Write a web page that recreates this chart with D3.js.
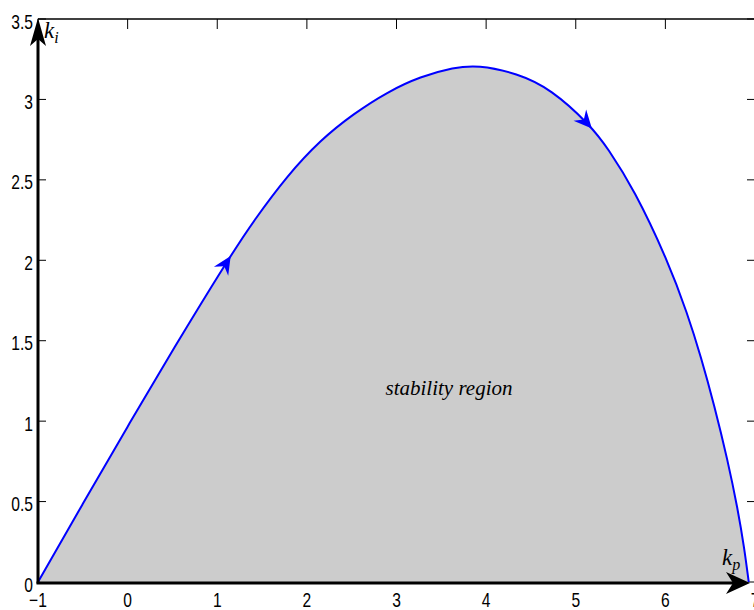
<!DOCTYPE html>
<html>
<head>
<meta charset="utf-8">
<script src="https://cdn.jsdelivr.net/npm/d3@7"></script>
<style>
  html, body { margin: 0; padding: 0; background: #fff; }
  svg { display: block; }
</style>
</head>
<body>
<svg id="chart" width="754" height="610"></svg>
<script>
// Stability boundary in the (kp, ki) plane
const kpValues = [-1, -0.5, 0, 0.5, 1.143, 1.406, 1.779, 2.151, 2.523, 2.896, 3.268, 3.640, 3.902, 4.349, 4.721, 5.168, 5.354, 5.651, 6.025, 6.248, 6.397, 6.545, 6.695, 6.807, 6.881, 6.93];
const kiValues = [0, 0.487, 0.967, 1.44, 2.025, 2.245, 2.525, 2.748, 2.912, 3.046, 3.143, 3.198, 3.215, 3.162, 3.066, 2.837, 2.700, 2.440, 2.000, 1.665, 1.400, 1.100, 0.757, 0.455, 0.210, 0];

// Direction markers placed along the boundary (kp positions)
const arrowKp = [1.15, 5.18];

// Axis ticks
const xTicks = [-1, 0, 1, 2, 3, 4, 5, 6, 7];
const xTickLabels = ["\u22121", "0", "1", "2", "3", "4", "5", "6", "7"];
const yTicks = [0, 0.5, 1, 1.5, 2, 2.5, 3, 3.5];
const yTickLabels = ["0", "0.5", "1", "1.5", "2", "2.5", "3", "3.5"];

const regionLabel = "stability region";

const svg = d3.select("#chart");
const x = d3.scaleLinear().domain([-1, 7]).range([38, 755]);
const y = d3.scaleLinear().domain([0, 3.5]).range([582, 19]);

const pts = kpValues.map((k, i) => [k, kiValues[i]]);
const smooth = d3.curveBasis;

// Tick marks (drawn first so the filled region covers them)
const ticks = svg.append("g").attr("stroke", "#000").attr("stroke-width", 1);
xTicks.forEach(t => {
  ticks.append("line").attr("x1", x(t)).attr("x2", x(t)).attr("y1", y(3.5)).attr("y2", y(3.5) + 10);
  ticks.append("line").attr("x1", x(t)).attr("x2", x(t)).attr("y1", y(0)).attr("y2", y(0) - 10);
});
yTicks.forEach(t => {
  ticks.append("line").attr("x1", x(-1)).attr("x2", x(-1) + 8).attr("y1", y(t)).attr("y2", y(t));
  ticks.append("line").attr("x1", x(7) - 8).attr("x2", x(7)).attr("y1", y(t)).attr("y2", y(t));
});

// Top border of the axes box
svg.append("line")
  .attr("x1", x(-1)).attr("x2", x(7)).attr("y1", y(3.5)).attr("y2", y(3.5))
  .attr("stroke", "#000").attr("stroke-width", 1.5);

// Filled stability region
const area = d3.area()
  .x(d => x(d[0]))
  .y0(y(0))
  .y1(d => y(d[1]))
  .curve(smooth);
svg.append("path").attr("d", area(pts)).attr("fill", "#cccccc");

// Boundary curve
const line = d3.line().x(d => x(d[0])).y(d => y(d[1])).curve(smooth);
const boundary = svg.append("path")
  .attr("d", line(pts))
  .attr("fill", "none")
  .attr("stroke", "#0000ff")
  .attr("stroke-width", 2);

// Arrowheads along the boundary
const node = boundary.node();
const total = node.getTotalLength();
function lengthAtX(px) {
  let lo = 0, hi = total;
  for (let i = 0; i < 40; i++) {
    const mid = (lo + hi) / 2;
    if (node.getPointAtLength(mid).x < px) lo = mid; else hi = mid;
  }
  return (lo + hi) / 2;
}
const headPath = "M0,0 L-18,-8.5 L-12,0 L-18,8.5 Z";
arrowKp.forEach(k => {
  const L = lengthAtX(x(k));
  const p = node.getPointAtLength(L);
  const a = node.getPointAtLength(Math.max(0, L - 3));
  const b = node.getPointAtLength(Math.min(total, L + 3));
  const ang = Math.atan2(b.y - a.y, b.x - a.x) * 180 / Math.PI;
  svg.append("path")
    .attr("d", headPath)
    .attr("transform", `translate(${p.x},${p.y}) rotate(${ang})`)
    .attr("fill", "#0000ff");
});

// Thick coordinate axes with arrowheads
svg.append("line")
  .attr("x1", x(-1)).attr("x2", x(-1)).attr("y1", y(0) + 1.5).attr("y2", y(3.5) + 10)
  .attr("stroke", "#000").attr("stroke-width", 3);
svg.append("line")
  .attr("x1", x(-1) - 1.5).attr("x2", x(7) - 10).attr("y1", y(0) + 1).attr("y2", y(0) + 1)
  .attr("stroke", "#000").attr("stroke-width", 3);
const axisHead = "M0,0 L-28,-8 L-21,0 L-28,8 Z";
svg.append("path").attr("d", axisHead)
  .attr("transform", `translate(${x(-1)},${y(3.5) - 1}) rotate(-90)`).attr("fill", "#000");
const xHead = "M0,0 L-24,-11 L-17,0 L-24,11 Z";
svg.append("path").attr("d", xHead)
  .attr("transform", `translate(${x(7) - 5},${y(0) + 1}) rotate(0)`).attr("fill", "#000");

// Tick labels
const labelFont = "'Liberation Sans', Arial, sans-serif";
yTicks.forEach((t, i) => {
  svg.append("text")
    .attr("transform", `translate(33,${y(t) + 9.5}) scale(0.78,1)`)
    .attr("text-anchor", "end")
    .attr("font-family", labelFont)
    .attr("font-size", 20)
    .attr("fill", "#000")
    .text(yTickLabels[i]);
});
xTicks.forEach((t, i) => {
  svg.append("text")
    .attr("transform", `translate(${x(t)},${606.5}) scale(0.78,1)`)
    .attr("text-anchor", "middle")
    .attr("font-family", labelFont)
    .attr("font-size", 20)
    .attr("fill", "#000")
    .text(xTickLabels[i]);
});

// Axis names
const mathFont = "'Liberation Serif', 'DejaVu Serif', serif";
function axisName(px, py, main, sub) {
  const t = svg.append("text")
    .attr("x", px).attr("y", py)
    .attr("font-family", mathFont)
    .attr("font-style", "italic")
    .attr("font-size", 23)
    .attr("fill", "#000");
  t.append("tspan").text(main);
  t.append("tspan").attr("dy", 5).attr("font-size", 16).text(sub);
}
axisName(44, 38, "k", "i");
axisName(722, 565, "k", "p");

// Region label
svg.append("text")
  .attr("x", 449).attr("y", 395)
  .attr("text-anchor", "middle")
  .attr("font-family", mathFont)
  .attr("font-style", "italic")
  .attr("font-size", 21)
  .attr("fill", "#000")
  .text(regionLabel);
</script>
</body>
</html>
